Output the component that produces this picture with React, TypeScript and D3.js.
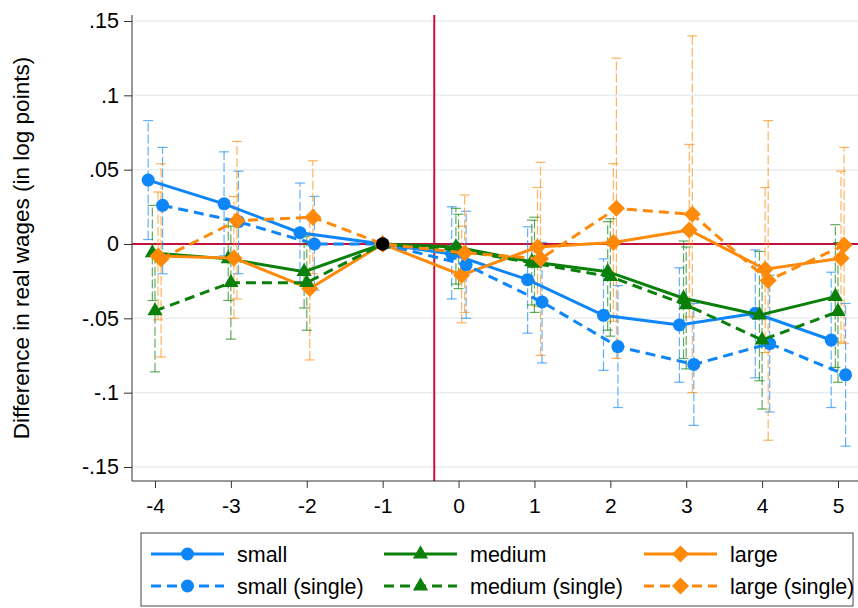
import React, { useEffect, useRef } from 'react';
import * as d3 from 'd3';

// event time
const periods = [-4, -3, -2, -1, 0, 1, 2, 3, 4, 5];
const yTicks = [-0.15, -0.1, -0.05, 0, 0.05, 0.1, 0.15];
const yTickLabels = ['-.15', '-.1', '-.05', '0', '.05', '.1', '.15'];

// point estimates and confidence bounds
const small = [0.043, 0.027, 0.0076, 0, -0.0067, -0.024, -0.048, -0.0545, -0.0466, -0.0646];
const smallLo = [0.003, -0.008, -0.026, 0, -0.037, -0.06, -0.085, -0.093, -0.09, -0.11];
const smallHi = [0.083, 0.062, 0.041, 0, 0.025, 0.0116, -0.01, -0.016, -0.004, -0.019];

const smallSingle = [0.026, 0.015, 0.0, 0, -0.014, -0.039, -0.069, -0.081, -0.067, -0.088];
const smallSingleLo = [-0.02, -0.02, -0.031, 0, -0.05, -0.08, -0.11, -0.122, -0.113, -0.136];
const smallSingleHi = [0.065, 0.049, 0.032, 0, 0.022, 0.001, -0.028, -0.04, -0.021, -0.04];

const medium = [-0.006, -0.01, -0.0186, 0, -0.002, -0.012, -0.0186, -0.0365, -0.0478, -0.0354];
const mediumLo = [-0.038, -0.038, -0.043, 0, -0.027, -0.041, -0.058, -0.077, -0.092, -0.083];
const mediumHi = [0.026, 0.016, 0.005, 0, 0.024, 0.016, 0.015, 0.002, -0.005, 0.013];

const mediumSingle = [-0.045, -0.026, -0.026, 0, -0.004, -0.013, -0.022, -0.041, -0.0646, -0.0455];
const mediumSingleLo = [-0.086, -0.064, -0.058, 0, -0.03, -0.046, -0.062, -0.084, -0.111, -0.093];
const mediumSingleHi = [-0.004, 0.012, 0.006, 0, 0.02, 0.018, 0.017, -0.002, -0.018, 0.001];

const large = [-0.008, -0.0095, -0.03, 0, -0.021, -0.002, 0.001, 0.0094, -0.017, -0.0096];
const largeLo = [-0.051, -0.05, -0.078, 0, -0.053, -0.042, -0.052, -0.049, -0.073, -0.066];
const largeHi = [0.035, 0.032, 0.018, 0, 0.012, 0.038, 0.054, 0.067, 0.038, 0.049];

const largeSingle = [-0.01, 0.0157, 0.018, 0, -0.006, -0.01, 0.024, 0.02, -0.0245, -0.0007];
const largeSingleLo = [-0.076, -0.037, -0.02, 0, -0.046, -0.075, -0.077, -0.1, -0.132, -0.067];
const largeSingleHi = [0.054, 0.069, 0.056, 0, 0.033, 0.055, 0.125, 0.14, 0.083, 0.065];

const BLUE = '#0f86f8';
const GREEN = '#0a800a';
const ORANGE = '#ff8a0a';
const RED = '#c2103f';
const FONT = '"Liberation Sans", Arial, Helvetica, sans-serif';

const series = [
  { name: 'small', v: small, lo: smallLo, hi: smallHi, color: BLUE, dashed: false, shape: 'circle', off: -0.09 },
  { name: 'medium', v: medium, lo: mediumLo, hi: mediumHi, color: GREEN, dashed: false, shape: 'triangle', off: -0.035 },
  { name: 'large', v: large, lo: largeLo, hi: largeHi, color: ORANGE, dashed: false, shape: 'diamond', off: 0.04 },
  { name: 'small (single)', v: smallSingle, lo: smallSingleLo, hi: smallSingleHi, color: BLUE, dashed: true, shape: 'circle', off: 0.1 },
  { name: 'medium (single)', v: mediumSingle, lo: mediumSingleLo, hi: mediumSingleHi, color: GREEN, dashed: true, shape: 'triangle', off: 0 },
  { name: 'large (single)', v: largeSingle, lo: largeSingleLo, hi: largeSingleHi, color: ORANGE, dashed: true, shape: 'diamond', off: 0.08 },
];

function symbolPath(shape: string) {
  if (shape === 'circle') return d3.symbol().type(d3.symbolCircle).size(133)();
  if (shape === 'triangle') return d3.symbol().type(d3.symbolTriangle).size(100)();
  return d3.symbol().type(d3.symbolSquare).size(145)();
}

function App() {
  const ref = useRef<SVGSVGElement>(null);

  useEffect(() => {
    const svg = d3.select(ref.current);
    svg.selectAll('*').remove();

    const left = 132, right = 858, top = 15, bottom = 481;
    const x = d3.scaleLinear().domain([-4, 5]).range([155, 838]);
    const y = d3.scaleLinear().domain([-0.15, 0.15]).range([467, 21]);

    // grid
    svg.append('g').selectAll('line').data(yTicks).join('line')
      .attr('x1', left).attr('x2', right)
      .attr('y1', d => y(d)).attr('y2', d => y(d))
      .attr('stroke', '#e9eff1').attr('stroke-width', 1.5);

    // reference lines
    svg.append('line').attr('x1', left).attr('x2', right)
      .attr('y1', y(0)).attr('y2', y(0))
      .attr('stroke', RED).attr('stroke-width', 2);
    svg.append('line').attr('x1', x(-0.32)).attr('x2', x(-0.32))
      .attr('y1', top).attr('y2', bottom)
      .attr('stroke', RED).attr('stroke-width', 2);

    // y axis
    const ya = svg.append('g').attr('transform', `translate(${left},0)`)
      .call(d3.axisLeft(y).tickValues(yTicks).tickFormat((d, i) => yTickLabels[i]).tickSize(8).tickPadding(5));
    ya.select('.domain').remove();
    ya.selectAll('text').style('font-size', '21.5px').style('font-family', FONT).attr('fill', '#000');
    ya.selectAll('.tick line').attr('stroke', '#333');
    svg.append('line').attr('x1', left).attr('x2', left).attr('y1', top).attr('y2', bottom).attr('stroke', '#333');

    // x axis
    const xa = svg.append('g').attr('transform', `translate(0,${bottom})`)
      .call(d3.axisBottom(x).tickValues(periods).tickFormat(d => String(d)).tickSize(7).tickPadding(10));
    xa.select('.domain').remove();
    xa.selectAll('text').style('font-size', '21px').style('font-family', FONT).attr('fill', '#000');
    xa.selectAll('.tick line').attr('stroke', '#333');
    svg.append('line').attr('x1', left).attr('x2', right).attr('y1', bottom).attr('y2', bottom).attr('stroke', '#333');

    // y title
    svg.append('text')
      .attr('transform', `translate(29,${(top + bottom) / 2}) rotate(-90)`)
      .attr('text-anchor', 'middle')
      .style('font-size', '22.5px').style('font-family', FONT)
      .text('Difference in real wages (in log points)');

    const xPos = (t: number, off: number) => x(t === -1 ? t : t + off);

    // confidence intervals
    series.forEach(s => {
      const g = svg.append('g').attr('stroke', s.color).attr('stroke-opacity', 0.65).attr('stroke-width', 1.2);
      periods.forEach((t, i) => {
        if (t === -1) return;
        const cx = xPos(t, s.off);
        g.append('line').attr('x1', cx).attr('x2', cx).attr('y1', y(s.lo[i])).attr('y2', y(s.hi[i]))
          .attr('stroke-dasharray', '9,3');
        [s.lo[i], s.hi[i]].forEach(b => {
          g.append('line').attr('x1', cx - 5).attr('x2', cx + 5).attr('y1', y(b)).attr('y2', y(b));
        });
      });
    });

    // lines and markers
    series.forEach(s => {
      const pts = periods.map((t, i) => [xPos(t, s.off), y(s.v[i])] as [number, number]);
      svg.append('path').attr('d', d3.line()(pts))
        .attr('fill', 'none').attr('stroke', s.color).attr('stroke-width', 3)
        .attr('stroke-dasharray', s.dashed ? '10,6' : null);
      pts.forEach(([px, py]) => {
        svg.append('path').attr('d', symbolPath(s.shape))
          .attr('transform', `translate(${px},${py})` + (s.shape === 'diamond' ? ' rotate(45)' : ''))
          .attr('fill', s.color);
      });
    });

    // reference period marker
    svg.append('circle').attr('cx', x(-1)).attr('cy', y(0)).attr('r', 6.7).attr('fill', '#000');

    // legend
    const lg = svg.append('g');
    lg.append('rect').attr('x', 141).attr('y', 533).attr('width', 712).attr('height', 73)
      .attr('fill', '#fff').attr('stroke', '#444').attr('stroke-width', 1);
    const colX = [151, 384, 644];
    const rowY = [554, 586];
    series.forEach((s, k) => {
      const cx = colX[k % 3];
      const cy = rowY[Math.floor(k / 3)];
      lg.append('line').attr('x1', cx).attr('x2', cx + 73).attr('y1', cy).attr('y2', cy)
        .attr('stroke', s.color).attr('stroke-width', 3)
        .attr('stroke-dasharray', s.dashed ? '10,6' : null);
      lg.append('path').attr('d', symbolPath(s.shape))
        .attr('transform', `translate(${cx + 36.5},${cy})` + (s.shape === 'diamond' ? ' rotate(45)' : ''))
        .attr('fill', s.color);
      lg.append('text').attr('x', cx + 86).attr('y', cy + 7.5)
        .style('font-size', '21.5px').style('font-family', FONT)
        .text(s.name);
    });
  }, []);

  return (
    <div style={{ position: 'absolute', left: 0, top: 0 }}>
      <svg ref={ref} width={858} height={608} style={{ display: 'block', background: '#fff' }} />
    </div>
  );
}

export default App;
